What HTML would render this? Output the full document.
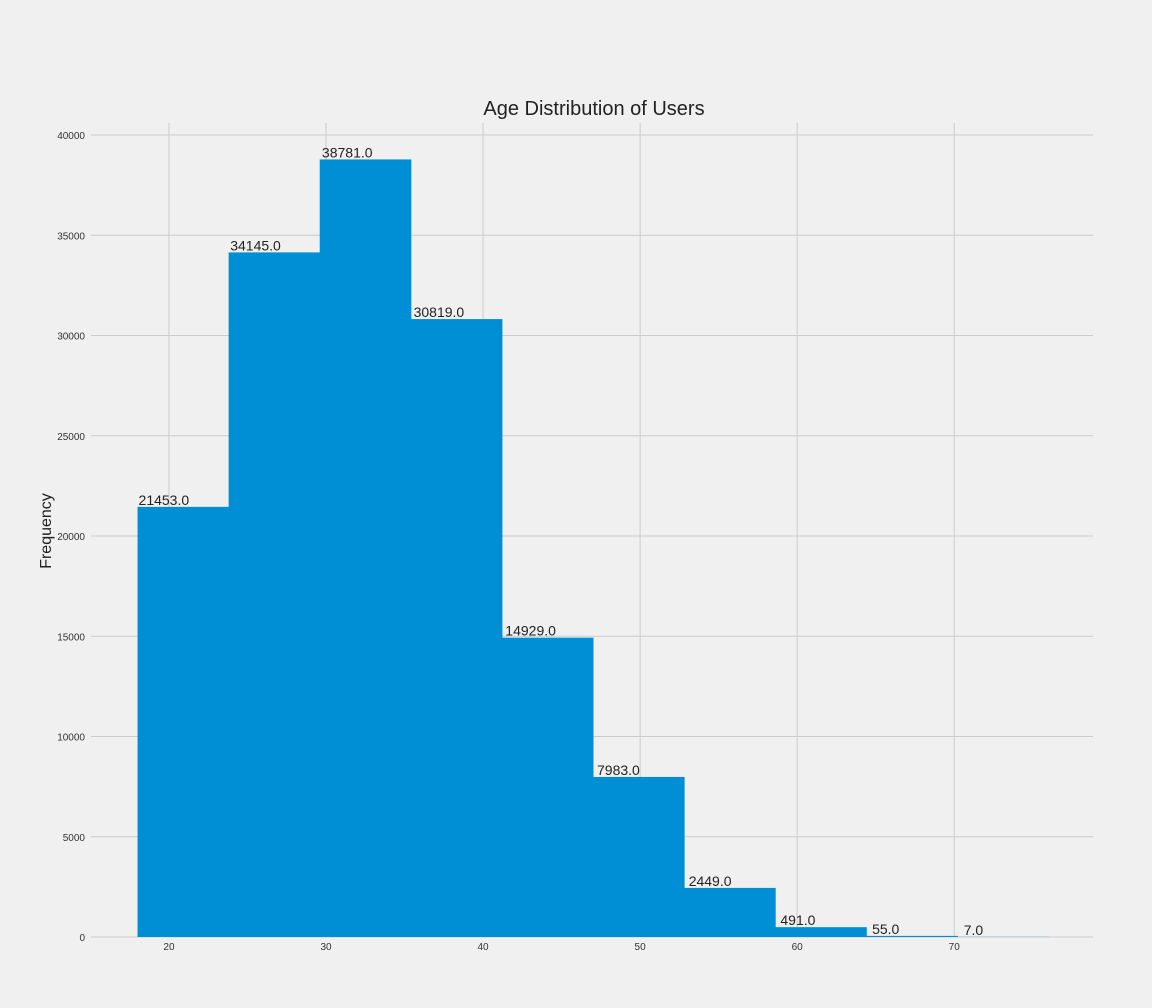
<!DOCTYPE html>
<html><head><meta charset="utf-8"><style>
html,body{margin:0;padding:0;background:#f0f0f0;}
svg{display:block;font-family:"Liberation Sans","DejaVu Sans",sans-serif;}
</style></head><body>
<svg id="chart" width="1152" height="1008">
<rect width="1152" height="1008" fill="#f0f0f0"/>
<text x="594" y="115" text-anchor="middle" font-size="20" fill="#222">Age Distribution of Users</text>
<text transform="translate(51,531) rotate(-90)" text-anchor="middle" font-size="16" fill="#222">Frequency</text>
<g id="grid"></g><g id="bars"></g><g id="labels"></g><g id="ticks"></g>
</svg>
<script>
const binStart = 18, binWidth = 5.8;
const counts = [21453, 34145, 38781, 30819, 14929, 7983, 2449, 491, 55, 7];
const xTicks = [20, 30, 40, 50, 60, 70];
const yTicks = [0, 5000, 10000, 15000, 20000, 25000, 30000, 35000, 40000];
const NS = "http://www.w3.org/2000/svg";
const L = 92, R = 1094, T = 123, B = 937;
const xMin = 15.1, xMax = 78.9;
function xs(v){ return L + (v - xMin) / (xMax - xMin) * (R - L); }
function ys(v){ return B - v / 40000 * (B - 135); }
function mk(tag, attrs, parent, text){
  const e = document.createElementNS(NS, tag);
  for (const k in attrs) e.setAttribute(k, attrs[k]);
  if (text !== undefined) e.textContent = text;
  document.getElementById(parent).appendChild(e);
  return e;
}
xTicks.forEach(t => {
  const g = mk('line', {x1: xs(t), x2: xs(t), y1: T, y2: B, stroke: '#cbcbcb', 'stroke-width': 1}, 'grid');
  
  
  const tl = mk('text', {x: xs(t), y: 950, 'text-anchor': 'middle', 'font-size': 10, fill: '#333'}, 'ticks', String(t));
  
  
});
yTicks.forEach(t => {
  const g = mk('line', {x1: L - 1, x2: R - 1, y1: ys(t), y2: ys(t), stroke: '#cbcbcb', 'stroke-width': 1}, 'grid');
  
  
  const tl = mk('text', {x: 85, y: ys(t) + 4, 'text-anchor': 'end', 'font-size': 10, fill: '#333'}, 'ticks', String(t));
  
  
});
counts.forEach((c, i) => {
  const x0 = xs(binStart + i * binWidth), x1 = xs(binStart + (i + 1) * binWidth);
  const b = mk('rect', {x: x0, y: ys(c), width: x1 - x0 + 0.5, height: B - ys(c), fill: '#008fd5'}, 'bars');
  
  
  const t = mk('text', {x: x0 + 1 + 0.6 * i, y: Math.min(ys(c) - 2, 937), 'font-size': 14, fill: '#222'}, 'labels', c.toFixed(1));
  
  
});
</script>
</body></html>
